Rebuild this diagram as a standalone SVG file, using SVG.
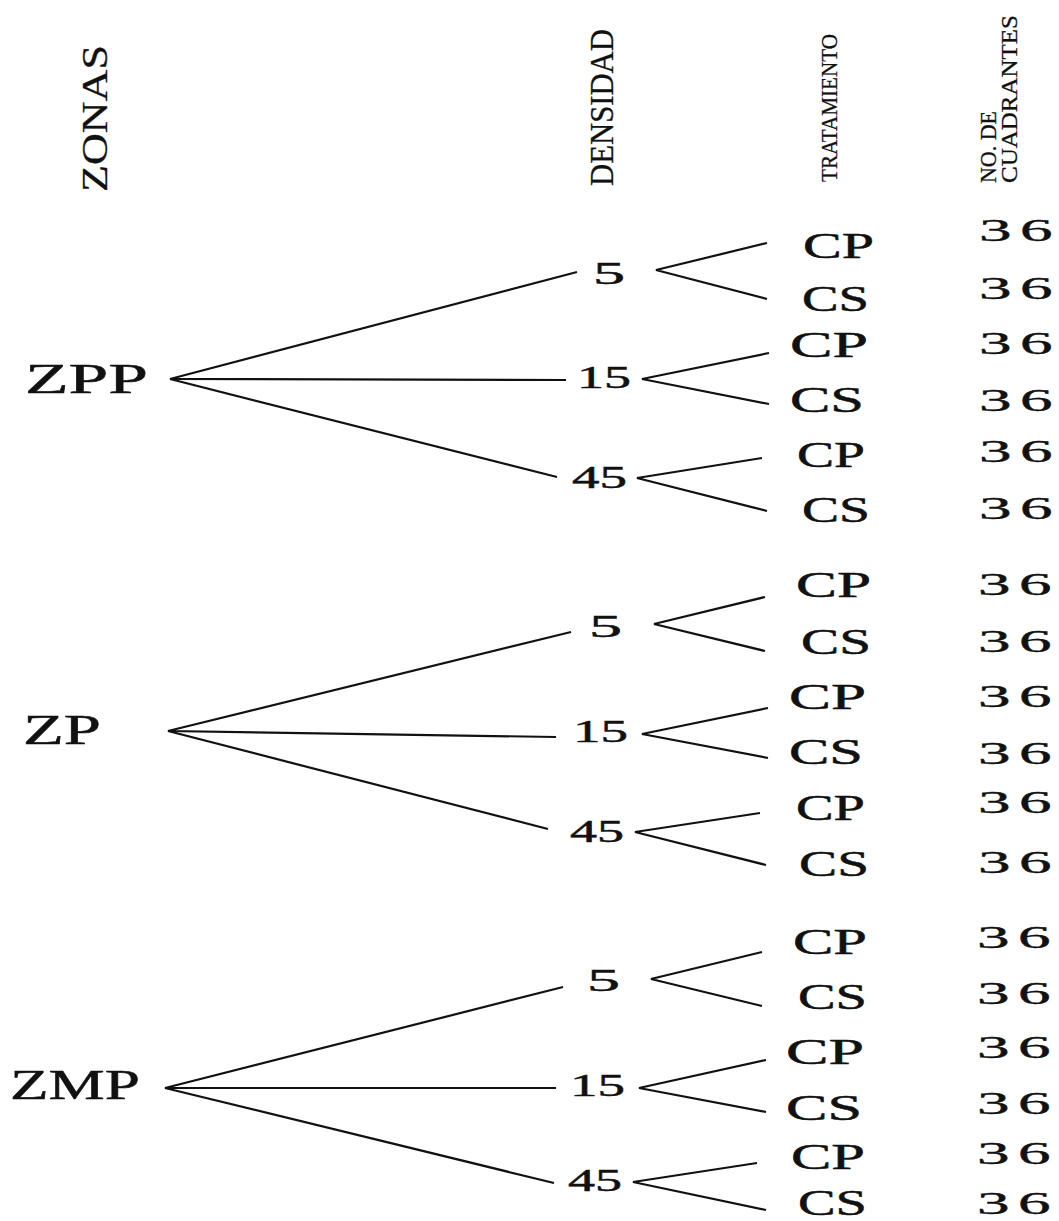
<svg xmlns="http://www.w3.org/2000/svg" width="1059" height="1221" viewBox="0 0 1059 1221">
<style>
text { font-family: "Liberation Serif", "Times New Roman", serif; fill: #111; }
.zone { font-size: 43px; stroke: #111; stroke-width: 0.5px; }
.dens { font-size: 32px; stroke: #111; stroke-width: 0.5px; }
.trt { font-size: 36px; stroke: #111; stroke-width: 0.5px; }
.num { font-size: 31px; stroke: #111; stroke-width: 0.4px; }
.hdr { stroke: #111; stroke-width: 0.3px; }
.conn polyline, .conn line { stroke: #111; stroke-width: 2.2; fill: none; stroke-linejoin: miter; }
</style>
<rect width="1059" height="1221" fill="#fff"/>

<g id="headers">
  <text id="h-zonas" class="hdr" transform="translate(107,192) rotate(-90)" font-size="35" textLength="147" lengthAdjust="spacingAndGlyphs">ZONAS</text>
  <text id="h-densidad" class="hdr" transform="translate(613,186) rotate(-90)" font-size="34" textLength="157" lengthAdjust="spacingAndGlyphs">DENSIDAD</text>
  <text id="h-tratamiento" class="hdr" transform="translate(837,182) rotate(-90)" font-size="24" textLength="148" lengthAdjust="spacingAndGlyphs">TRATAMIENTO</text>
  <text id="h-cuadrantes" class="hdr" transform="translate(996,183) rotate(-90)" font-size="23"><tspan x="0" y="0" textLength="72" lengthAdjust="spacingAndGlyphs">NO. DE</tspan><tspan x="0" y="21" textLength="168" lengthAdjust="spacingAndGlyphs">CUADRANTES</tspan></text>
</g>

<g id="connectors" class="conn">
  <polyline points="577,272 170,379 566,380"/>
  <line x1="170" y1="379" x2="557" y2="477"/>
  <polyline points="767,243 656,270 767,299"/>
  <polyline points="769,353 642,379 769,404"/>
  <polyline points="762,458 637,478 767,511"/>

  <polyline points="571,632 168,731 556,737"/>
  <line x1="168" y1="731" x2="548" y2="829"/>
  <polyline points="765,597 654,624 765,651"/>
  <polyline points="768,708 642,734 768,758"/>
  <polyline points="760,813 635,832 766,865"/>

  <polyline points="563,987 165,1088 556,1088"/>
  <line x1="165" y1="1088" x2="554" y2="1183"/>
  <polyline points="762,952 651,979 762,1006"/>
  <polyline points="766,1060 639,1088 766,1112"/>
  <polyline points="757,1163 633,1182 766,1210"/>
</g>

<g id="zone-ZPP"><text class="zone" x="25" y="393" textLength="123" lengthAdjust="spacingAndGlyphs">ZPP</text></g>
<g id="zone-ZP"><text class="zone" x="23" y="744" textLength="78" lengthAdjust="spacingAndGlyphs">ZP</text></g>
<g id="zone-ZMP"><text class="zone" x="10" y="1099" textLength="130" lengthAdjust="spacingAndGlyphs">ZMP</text></g>

<g id="dens-ZPP-5"><text class="dens" x="593" y="284" textLength="32" lengthAdjust="spacingAndGlyphs">5</text></g>
<g id="dens-ZPP-15"><text class="dens" x="577" y="388" textLength="54" lengthAdjust="spacingAndGlyphs">15</text></g>
<g id="dens-ZPP-45"><text class="dens" x="572" y="488" textLength="55" lengthAdjust="spacingAndGlyphs">45</text></g>
<g id="dens-ZP-5"><text class="dens" x="589" y="637" textLength="33" lengthAdjust="spacingAndGlyphs">5</text></g>
<g id="dens-ZP-15"><text class="dens" x="573" y="742" textLength="55" lengthAdjust="spacingAndGlyphs">15</text></g>
<g id="dens-ZP-45"><text class="dens" x="570" y="842" textLength="54" lengthAdjust="spacingAndGlyphs">45</text></g>
<g id="dens-ZMP-5"><text class="dens" x="587" y="991" textLength="33" lengthAdjust="spacingAndGlyphs">5</text></g>
<g id="dens-ZMP-15"><text class="dens" x="570" y="1096" textLength="55" lengthAdjust="spacingAndGlyphs">15</text></g>
<g id="dens-ZMP-45"><text class="dens" x="568" y="1191" textLength="54" lengthAdjust="spacingAndGlyphs">45</text></g>

<g id="trt-1"><text class="trt" x="803" y="258" textLength="71" lengthAdjust="spacingAndGlyphs">CP</text></g>
<g id="trt-2"><text class="trt" x="802" y="311" textLength="67" lengthAdjust="spacingAndGlyphs">CS</text></g>
<g id="trt-3"><text class="trt" x="790" y="357" textLength="78" lengthAdjust="spacingAndGlyphs">CP</text></g>
<g id="trt-4"><text class="trt" x="790" y="412" textLength="74" lengthAdjust="spacingAndGlyphs">CS</text></g>
<g id="trt-5"><text class="trt" x="797" y="467" textLength="68" lengthAdjust="spacingAndGlyphs">CP</text></g>
<g id="trt-6"><text class="trt" x="802" y="522" textLength="68" lengthAdjust="spacingAndGlyphs">CS</text></g>
<g id="trt-7"><text class="trt" x="796" y="597" textLength="75" lengthAdjust="spacingAndGlyphs">CP</text></g>
<g id="trt-8"><text class="trt" x="801" y="654" textLength="70" lengthAdjust="spacingAndGlyphs">CS</text></g>
<g id="trt-9"><text class="trt" x="789" y="709" textLength="77" lengthAdjust="spacingAndGlyphs">CP</text></g>
<g id="trt-10"><text class="trt" x="789" y="764" textLength="74" lengthAdjust="spacingAndGlyphs">CS</text></g>
<g id="trt-11"><text class="trt" x="796" y="820" textLength="69" lengthAdjust="spacingAndGlyphs">CP</text></g>
<g id="trt-12"><text class="trt" x="799" y="876" textLength="70" lengthAdjust="spacingAndGlyphs">CS</text></g>
<g id="trt-13"><text class="trt" x="793" y="954" textLength="74" lengthAdjust="spacingAndGlyphs">CP</text></g>
<g id="trt-14"><text class="trt" x="798" y="1009" textLength="69" lengthAdjust="spacingAndGlyphs">CS</text></g>
<g id="trt-15"><text class="trt" x="786" y="1064" textLength="78" lengthAdjust="spacingAndGlyphs">CP</text></g>
<g id="trt-16"><text class="trt" x="786" y="1120" textLength="76" lengthAdjust="spacingAndGlyphs">CS</text></g>
<g id="trt-17"><text class="trt" x="791" y="1169" textLength="74" lengthAdjust="spacingAndGlyphs">CP</text></g>
<g id="trt-18"><text class="trt" x="798" y="1215" textLength="69" lengthAdjust="spacingAndGlyphs">CS</text></g>

<g id="counts">
  <text class="num" transform="translate(979,241) scale(2.1,1)"><tspan x="0">3</tspan><tspan x="19.5">6</tspan></text>
  <text class="num" transform="translate(979,299) scale(2.1,1)"><tspan x="0">3</tspan><tspan x="19.5">6</tspan></text>
  <text class="num" transform="translate(979,354) scale(2.1,1)"><tspan x="0">3</tspan><tspan x="19.5">6</tspan></text>
  <text class="num" transform="translate(979,411) scale(2.1,1)"><tspan x="0">3</tspan><tspan x="19.5">6</tspan></text>
  <text class="num" transform="translate(979,462) scale(2.1,1)"><tspan x="0">3</tspan><tspan x="19.5">6</tspan></text>
  <text class="num" transform="translate(979,519) scale(2.1,1)"><tspan x="0">3</tspan><tspan x="19.5">6</tspan></text>
  <text class="num" transform="translate(978,595) scale(2.1,1)"><tspan x="0">3</tspan><tspan x="19.5">6</tspan></text>
  <text class="num" transform="translate(978,652) scale(2.1,1)"><tspan x="0">3</tspan><tspan x="19.5">6</tspan></text>
  <text class="num" transform="translate(978,707) scale(2.1,1)"><tspan x="0">3</tspan><tspan x="19.5">6</tspan></text>
  <text class="num" transform="translate(978,764) scale(2.1,1)"><tspan x="0">3</tspan><tspan x="19.5">6</tspan></text>
  <text class="num" transform="translate(978,813) scale(2.1,1)"><tspan x="0">3</tspan><tspan x="19.5">6</tspan></text>
  <text class="num" transform="translate(978,873) scale(2.1,1)"><tspan x="0">3</tspan><tspan x="19.5">6</tspan></text>
  <text class="num" transform="translate(977,948) scale(2.1,1)"><tspan x="0">3</tspan><tspan x="19.5">6</tspan></text>
  <text class="num" transform="translate(977,1004) scale(2.1,1)"><tspan x="0">3</tspan><tspan x="19.5">6</tspan></text>
  <text class="num" transform="translate(977,1058) scale(2.1,1)"><tspan x="0">3</tspan><tspan x="19.5">6</tspan></text>
  <text class="num" transform="translate(977,1114) scale(2.1,1)"><tspan x="0">3</tspan><tspan x="19.5">6</tspan></text>
  <text class="num" transform="translate(977,1164) scale(2.1,1)"><tspan x="0">3</tspan><tspan x="19.5">6</tspan></text>
  <text class="num" transform="translate(977,1214) scale(2.1,1)"><tspan x="0">3</tspan><tspan x="19.5">6</tspan></text>
</g>
</svg>
